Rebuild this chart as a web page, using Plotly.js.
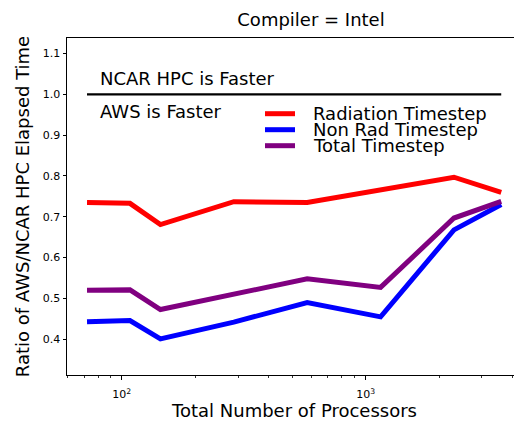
<!DOCTYPE html>
<html>
<head>
<meta charset="utf-8">
<script src="https://cdn.plot.ly/plotly-3.0.1.min.js"></script>
<style>
html, body { margin: 0; padding: 0; overflow: hidden; background: #fff; }
#chart { width: 530px; height: 421px; }
</style>
</head>
<body>
<div id="chart"></div>
<script>
// ---- data ----
const processors = [72, 108, 144, 288, 576, 1152, 2304, 3600];
const radiationTimestep = [0.735, 0.733, 0.681, 0.737, 0.735, 0.765, 0.797, 0.760];
const nonRadTimestep    = [0.443, 0.446, 0.401, 0.442, 0.490, 0.455, 0.668, 0.730];
const totalTimestep     = [0.520, 0.521, 0.473, 0.511, 0.548, 0.527, 0.697, 0.738];
const seriesNames = ["Radiation Timestep", "Non Rad Timestep", "Total Timestep"];
const seriesColors = ["red", "blue", "purple"];
const referenceLevel = 1.0;
const titleText = "Compiler = Intel";
const xTitle = "Total Number of Processors";
const yTitle = "Ratio of AWS/NCAR HPC Elapsed Time";
const upperNote = "NCAR HPC is Faster";
const lowerNote = "AWS is Faster";

// ---- layout helpers (pixel -> paper) ----
const W = 530, H = 421, ML = 67, MR = 8, MT = 38, MB = 46;
const PW = W - ML - MR, PH = H - MT - MB;
const px = x => (x - ML) / PW;
const py = y => (H - MB - y) / PH;
const FONT = "DejaVu Sans, sans-serif";

const seriesData = [radiationTimestep, nonRadTimestep, totalTimestep];
const traces = seriesData.map((ys, i) => ({
  type: "scatter", mode: "lines", x: processors, y: ys, name: seriesNames[i],
  line: { color: seriesColors[i], width: 5 }, showlegend: false
}));
traces.push({
  type: "scatter", mode: "lines",
  x: [processors[0], processors[processors.length - 1]],
  y: [referenceLevel, referenceLevel],
  line: { color: "black", width: 2.2 }, showlegend: false, hoverinfo: "skip"
});

const annotations = [
  { text: upperNote, x: px(98), y: py(78), xanchor: "left", yanchor: "middle" },
  { text: lowerNote, x: px(98), y: py(111), xanchor: "left", yanchor: "middle" }
];
const shapes = [];
const legendRows = [113.7, 129.7, 145.7];
seriesNames.forEach((n, i) => {
  annotations.push({ text: n, x: px(311), y: py(legendRows[i]), xanchor: "left", yanchor: "middle" });
  shapes.push({ type: "line", xref: "paper", yref: "paper",
    x0: px(265), x1: px(295), y0: py(legendRows[i]), y1: py(legendRows[i]),
    line: { color: seriesColors[i], width: 5 } });
});
annotations.forEach(a => {
  a.xref = "paper"; a.yref = "paper"; a.showarrow = false;
  a.font = { family: FONT, size: 18, color: "black" };
});

const minorVals = [60, 70, 80, 90, 200, 300, 400, 500, 600, 700, 800, 900, 2000, 3000, 4000];

const layout = {
  width: W, height: H,
  margin: { l: ML, r: MR, t: MT, b: MB, pad: 0 },
  paper_bgcolor: "white", plot_bgcolor: "white",
  font: { family: FONT, color: "black" },
  title: { text: titleText, x: 311 / W, xref: "container", xanchor: "center",
           y: 1 - 20 / H, yref: "container", yanchor: "middle",
           font: { family: FONT, size: 18, color: "black" } },
  xaxis: {
    type: "log", range: [Math.log10(59.6), Math.log10(4380)],
    tickvals: [100, 1000], ticktext: ["10<sup>2</sup>", "10<sup>3</sup>"],
    ticks: "outside", ticklen: 4, tickwidth: 1, tickcolor: "black",
    ticklabelstandoff: 5,
    tickfont: { family: FONT, size: 11, color: "black" },
    minor: { tickmode: "array", tickvals: minorVals, ticks: "outside", ticklen: 2, tickwidth: 0.8, tickcolor: "black", showgrid: false },
    showgrid: false, zeroline: false,
    showline: true, linecolor: "black", linewidth: 1, mirror: true,
    title: { text: xTitle, font: { family: FONT, size: 18, color: "black" }, standoff: 6 }
  },
  yaxis: {
    range: [0.3125, 1.138],
    tickvals: [0.4, 0.5, 0.6, 0.7, 0.8, 0.9, 1.0, 1.1], tickformat: ".1f",
    ticks: "outside", ticklen: 3.5, tickwidth: 1, tickcolor: "black",
    tickfont: { family: FONT, size: 11, color: "black" },
    showgrid: false, zeroline: false,
    showline: true, linecolor: "black", linewidth: 1, mirror: true,
    title: { text: yTitle, font: { family: FONT, size: 18, color: "black" }, standoff: 8 }
  },
  annotations: annotations,
  shapes: shapes,
  showlegend: false
};

Plotly.newPlot("chart", traces, layout, { displayModeBar: false, staticPlot: true });
</script>
</body>
</html>
